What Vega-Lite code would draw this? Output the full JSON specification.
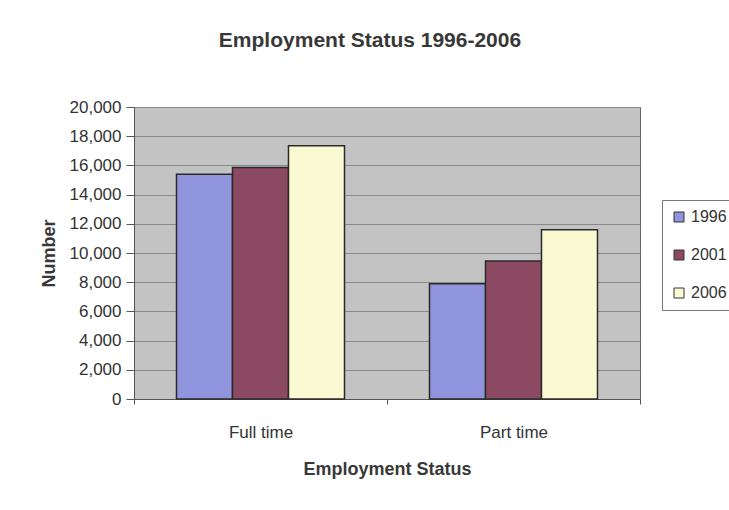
{
  "$schema": "https://vega.github.io/schema/vega-lite/v6.json",
  "width": 506,
  "height": 292,
  "autosize": "none",
  "padding": {"left": 134, "top": 107, "right": 89, "bottom": 111},
  "background": "#ffffff",
  "title": {
    "text": "Employment Status 1996-2006",
    "font": "Liberation Sans",
    "fontSize": 21,
    "fontWeight": "bold",
    "color": "#383838",
    "anchor": "middle",
    "dx": -17,
    "offset": 47
  },
  "data": {
    "values": [
      {"status": "Full time", "year": "1996", "value": 15400},
      {"status": "Full time", "year": "2001", "value": 15850},
      {"status": "Full time", "year": "2006", "value": 17350},
      {"status": "Part time", "year": "1996", "value": 7900},
      {"status": "Part time", "year": "2001", "value": 9450},
      {"status": "Part time", "year": "2006", "value": 11600}
    ]
  },
  "mark": {"type": "bar", "stroke": "#2a2a2a", "strokeWidth": 1.5},
  "encoding": {
    "x": {
      "field": "status",
      "type": "nominal",
      "scale": {"paddingInner": 0, "paddingOuter": 0},
      "axis": {
        "title": "Employment Status",
        "titleFont": "Liberation Sans",
        "titleFontSize": 18,
        "titleFontWeight": "bold",
        "titleColor": "#383838",
        "titlePadding": 20,
        "labelFont": "Liberation Sans",
        "labelFontSize": 17,
        "labelColor": "#333333",
        "labelAngle": 0,
        "labelPadding": 20,
        "ticks": true,
        "tickBand": "extent",
        "tickSize": 5,
        "tickColor": "#555555",
        "domainColor": "#555555",
        "grid": false
      }
    },
    "xOffset": {"field": "year", "type": "nominal", "scale": {"paddingInner": 0, "paddingOuter": 0.759}},
    "y": {
      "field": "value",
      "type": "quantitative",
      "scale": {"domain": [0, 20000]},
      "axis": {
        "title": "Number",
        "titleFont": "Liberation Sans",
        "titleFontSize": 18,
        "titleFontWeight": "bold",
        "titleColor": "#383838",
        "titlePadding": 11,
        "labelFont": "Liberation Sans",
        "labelFontSize": 17,
        "labelColor": "#333333",
        "values": [0, 2000, 4000, 6000, 8000, 10000, 12000, 14000, 16000, 18000, 20000],
        "labelOverlap": false,
        "format": ",d",
        "tickSize": 8,
        "tickColor": "#555555",
        "domainColor": "#555555",
        "labelPadding": 5,
        "grid": true,
        "gridColor": "#8a8a8a",
        "gridWidth": 1
      }
    },
    "fill": {
      "field": "year",
      "type": "nominal",
      "scale": {"domain": ["1996", "2001", "2006"], "range": ["#8f94dc", "#8c4a62", "#fafad2"]},
      "legend": {
        "title": null,
        "orient": "none",
        "legendX": 528,
        "legendY": 93,
        "symbolType": "square",
        "symbolSize": 100,
        "symbolStrokeColor": "#333333",
        "symbolStrokeWidth": 1,
        "labelFont": "Liberation Sans",
        "labelFontSize": 16,
        "labelColor": "#333333",
        "labelOffset": 4,
        "rowPadding": 22,
        "padding": 9,
        "strokeColor": "#777777",
        "fillColor": "#ffffff"
      }
    }
  },
  "config": {
    "view": {"fill": "#c3c3c3", "stroke": "#666666", "strokeWidth": 1}
  }
}
